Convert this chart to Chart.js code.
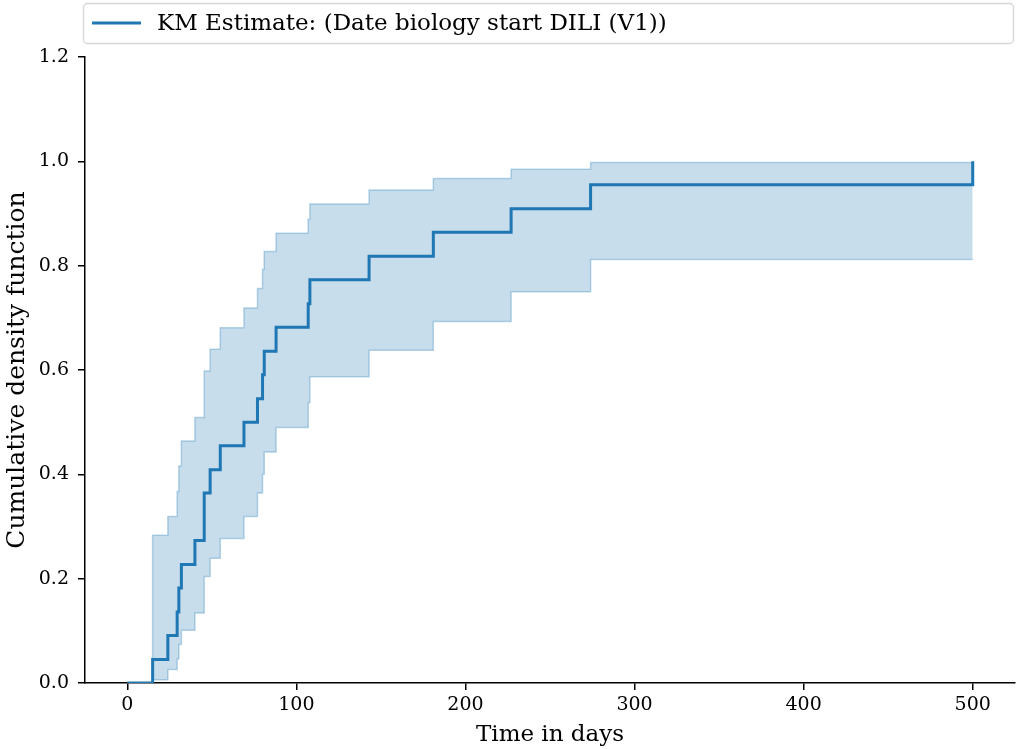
<!DOCTYPE html>
<html>
<head>
<meta charset="utf-8">
<script src="https://cdn.jsdelivr.net/npm/chart.js@4.4.1/dist/chart.umd.min.js"></script>
<style>
  html, body { margin: 0; padding: 0; background: #fff; }
  #wrap { width: 1017px; height: 749px; position: relative; }
</style>
</head>
<body>
<div id="wrap"><canvas id="km"></canvas></div>
<script>
// event times (days) and the step values
var times = [0, 15, 24, 29.5, 30.5, 32, 40, 45.5, 49, 55, 69, 77, 80, 81, 88, 107, 108, 143, 181, 227, 274, 500];
var kmEstimate = [0, 0.045, 0.091, 0.136, 0.182, 0.227, 0.273, 0.364, 0.409, 0.455, 0.5, 0.545, 0.591, 0.636, 0.682, 0.727, 0.773, 0.818, 0.864, 0.909, 0.955, 1.0];
var ciLower = [0, 0.006, 0.026, 0.046, 0.074, 0.101, 0.134, 0.204, 0.239, 0.277, 0.319, 0.364, 0.400, 0.443, 0.490, 0.537, 0.587, 0.638, 0.693, 0.750, 0.812, 0.812];
var ciUpper = [0, 0.283, 0.319, 0.367, 0.416, 0.464, 0.509, 0.598, 0.640, 0.681, 0.719, 0.756, 0.793, 0.827, 0.862, 0.889, 0.918, 0.945, 0.967, 0.985, 0.998, 0.998];
var xTicks = [0, 100, 200, 300, 400, 500];
var legendLabel = 'KM Estimate: (Date biology start DILI (V1))';

function pts(ys) {
  return times.map(function(t, i) { return { x: t, y: ys[i] }; });
}

var blue = '#1f77b4';
var serif = "'DejaVu Serif', serif";

// matplotlib style legend box on top
var legendBox = {
  id: 'legendBox',
  afterDraw: function(chart) {
    var c = chart.ctx;
    c.save();
    var x = 83.5, y = 3.5, w = 930, h = 40, r = 4;
    c.beginPath();
    c.moveTo(x + r, y);
    c.arcTo(x + w, y, x + w, y + h, r);
    c.arcTo(x + w, y + h, x, y + h, r);
    c.arcTo(x, y + h, x, y, r);
    c.arcTo(x, y, x + w, y, r);
    c.closePath();
    c.fillStyle = 'rgba(255,255,255,0.8)';
    c.fill();
    c.strokeStyle = '#d6d6d6';
    c.lineWidth = 1.3;
    c.stroke();
    c.beginPath();
    c.moveTo(92, 23);
    c.lineTo(141, 23);
    c.strokeStyle = blue;
    c.lineWidth = 3;
    c.stroke();
    c.fillStyle = '#000';
    c.font = '23px ' + serif;
    c.textBaseline = 'middle';
    c.fillText(legendLabel, 157, 24);
    c.restore();
  }
};

var ctx = document.getElementById('km').getContext('2d');

var myChart = new Chart(ctx, {
  type: 'line',
  data: {
    datasets: [{
      label: legendLabel,
      data: pts(kmEstimate),
      stepped: true,
      borderColor: blue,
      borderWidth: 3,
      pointRadius: 0,
      fill: false
    }, {
      label: 'upper',
      data: pts(ciUpper),
      stepped: true,
      borderColor: 'rgba(31,119,180,0.3)',
      borderWidth: 1.5,
      backgroundColor: 'rgba(31,119,180,0.25)',
      pointRadius: 0,
      fill: '+1'
    }, {
      label: 'lower',
      data: pts(ciLower),
      stepped: true,
      borderColor: 'rgba(31,119,180,0.3)',
      borderWidth: 1.5,
      pointRadius: 0,
      fill: false
    }]
  },
  options: {
    responsive: true,
    maintainAspectRatio: false,
    animation: false,
    layout: { padding: { top: 57, right: 2, left: 0, bottom: 0 } },
    plugins: {
      legend: { display: false },
      tooltip: { enabled: false }
    },
    scales: {
      x: {
        type: 'linear',
        min: -25,
        max: 525,
        afterBuildTicks: function(scale) {
          scale.ticks = xTicks.map(function(v) { return { value: v }; });
        },
        afterFit: function(scale) { scale.height = 66; },
        border: { display: true, color: '#000', width: 1.5 },
        grid: { drawOnChartArea: false, drawTicks: true, tickLength: 7, color: '#000', lineWidth: 1.5 },
        ticks: { color: '#000', font: { family: serif, size: 19 }, padding: 4, maxRotation: 0 },
        title: { display: true, text: 'Time in days', color: '#000', font: { family: serif, size: 23 }, padding: { top: 0, bottom: 0 } }
      },
      y: {
        min: 0,
        max: 1.2,
        afterFit: function(scale) { scale.width = 85; },
        border: { display: true, color: '#000', width: 1.5 },
        grid: { drawOnChartArea: false, drawTicks: true, tickLength: 7, color: '#000', lineWidth: 1.5 },
        ticks: {
          stepSize: 0.2,
          color: '#000',
          font: { family: serif, size: 19 },
          padding: 9,
          callback: function(v) { return v.toFixed(1); }
        },
        title: { display: true, text: 'Cumulative density function', color: '#000', font: { family: serif, size: 25 }, padding: { top: 2, bottom: 0 } }
      }
    }
  },
  plugins: [legendBox]
});
</script>
</body>
</html>
